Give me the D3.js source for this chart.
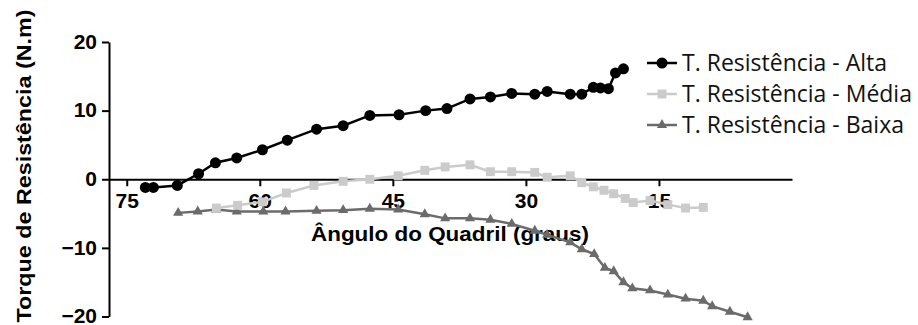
<!DOCTYPE html>
<html>
<head>
<meta charset="utf-8">
<script src="https://cdn.jsdelivr.net/npm/d3@7"></script>
<style>
  body { margin: 0; background: #fff; }
  svg { display: block; }
</style>
</head>
<body>
<div id="chart"></div>
<script>
// Torque de resistência x ângulo do quadril
const altaAngulo = [72.9, 72.0, 69.3, 66.9, 65.0, 62.6, 59.7, 56.9, 53.6, 50.6, 47.6, 44.3, 41.3, 38.9, 36.3, 34.0, 31.6, 29.0, 27.6, 25.0, 23.7, 22.4, 21.6, 20.7, 19.9, 19.0];
const altaTorque = [-1.2, -1.2, -0.9, 0.8, 2.4, 3.1, 4.3, 5.7, 7.3, 7.8, 9.3, 9.4, 10.0, 10.3, 11.7, 12.0, 12.5, 12.4, 12.8, 12.4, 12.4, 13.4, 13.3, 13.2, 15.5, 16.1];

const mediaAngulo = [64.9, 62.5, 59.7, 57.0, 53.9, 50.6, 47.6, 44.4, 41.4, 39.1, 36.3, 34.0, 31.6, 29.0, 27.6, 25.0, 23.7, 22.4, 21.2, 20.1, 18.8, 17.9, 16.0, 14.0, 12.0, 10.0];
const mediaTorque = [-4.2, -3.8, -3.3, -2.0, -0.9, -0.3, 0.0, 0.5, 1.3, 1.8, 2.1, 1.1, 1.1, 1.0, 0.3, 0.5, -0.5, -1.1, -1.6, -2.1, -2.8, -3.4, -3.1, -3.7, -4.2, -4.1];

const baixaAngulo = [69.2, 67.0, 64.9, 62.6, 59.6, 57.1, 53.6, 50.6, 47.6, 44.4, 41.4, 39.1, 36.3, 34.0, 31.6, 29.0, 27.6, 25.0, 23.7, 22.3, 21.1, 20.1, 19.0, 18.0, 16.0, 14.0, 12.0, 10.0, 9.0, 7.0, 5.0];
const baixaTorque = [-4.9, -4.7, -4.4, -4.7, -4.7, -4.7, -4.6, -4.5, -4.3, -4.4, -5.1, -5.7, -5.7, -5.9, -6.5, -7.5, -8.1, -9.2, -10.2, -10.9, -12.9, -13.4, -15.0, -15.9, -16.2, -16.8, -17.4, -17.7, -18.5, -19.3, -20.1];

const xTicks = [75, 60, 45, 30, 15];
const yTicks = [-20, -10, 0, 10, 20];
const seriesNames = ["T. Resistência - Alta", "T. Resistência - Média", "T. Resistência - Baixa"];

const width = 918, height = 325;
const axisFont = "'Liberation Sans', Arial, sans-serif";

const series = [
    {name: seriesNames[0], color: "#000000", shape: d3.symbolCircle, size: 95,
        values: altaAngulo.map((a, i) => ({x: a, y: altaTorque[i]}))},
    {name: seriesNames[1], color: "#cbcbcb", shape: d3.symbolSquare, size: 80,
        values: mediaAngulo.map((a, i) => ({x: a, y: mediaTorque[i]}))},
    {name: seriesNames[2], color: "#6b6b6b", shape: d3.symbolTriangle, size: 45,
        values: baixaAngulo.map((a, i) => ({x: a, y: baixaTorque[i]}))}
];

const svg = d3.select("#chart").append("svg")
    .attr("width", width)
    .attr("height", height);

// x reversed: larger angle on the left
const x = d3.scaleLinear().domain([77, 0]).range([109, 792]);
const y = d3.scaleLinear().domain([-20, 20]).range([316.5, 42]);

const styleTicks = g => g.selectAll("text")
    .attr("fill", "#000")
    .style("font-family", axisFont)
    .style("font-size", "21px")
    .style("font-weight", "bold");

// y axis
svg.append("g")
    .attr("transform", `translate(${x(77)},0)`)
    .call(d3.axisLeft(y).tickValues(yTicks).tickSize(7).tickSizeOuter(0).tickPadding(5))
    .call(g => g.selectAll("path, line").attr("stroke", "#000").attr("stroke-width", 2))
    .call(styleTicks)
    .call(g => g.selectAll("text").attr("dy", "0.3em"));

// x axis sits on y = 0
svg.append("g")
    .attr("transform", `translate(0,${y(0)})`)
    .call(d3.axisBottom(x).tickValues(xTicks).tickSize(7).tickSizeOuter(0).tickPadding(7))
    .call(g => g.selectAll("path, line").attr("stroke", "#000").attr("stroke-width", 2))
    .call(styleTicks);

// axis titles
svg.append("text")
    .attr("x", 450)
    .attr("y", 241)
    .attr("text-anchor", "middle")
    .attr("textLength", 278)
    .attr("lengthAdjust", "spacingAndGlyphs")
    .style("font-family", axisFont)
    .style("font-size", "21px")
    .style("font-weight", "bold")
    .text("Ângulo do Quadril (graus)");

svg.append("text")
    .attr("transform", "translate(31,166) rotate(-90)")
    .attr("text-anchor", "middle")
    .attr("textLength", 313)
    .attr("lengthAdjust", "spacingAndGlyphs")
    .style("font-family", axisFont)
    .style("font-size", "21px")
    .style("font-weight", "bold")
    .text("Torque de Resistência (N.m)");

// lines + markers
const line = d3.line().x(d => x(d.x)).y(d => y(d.y));

const groups = svg.selectAll("g.serie")
    .data(series.slice().reverse())
    .join("g")
    .attr("class", "serie");

groups.append("path")
    .attr("d", d => line(d.values))
    .attr("fill", "none")
    .attr("stroke", d => d.color)
    .attr("stroke-width", 2.5);

groups.each(function (s) {
    d3.select(this).selectAll("path.pt")
        .data(s.values)
        .join("path")
        .attr("class", "pt")
        .attr("transform", d => `translate(${x(d.x)},${y(d.y)})`)
        .attr("d", d3.symbol().type(s.shape).size(s.size))
        .attr("fill", s.color);
});

// legend
const legend = svg.append("g")
    .selectAll("g")
    .data(series)
    .join("g")
    .attr("transform", (d, i) => `translate(647,${63 + i * 31})`);

legend.append("line")
    .attr("x1", 0).attr("x2", 30)
    .attr("stroke", d => d.color)
    .attr("stroke-width", 2.5);

legend.append("path")
    .attr("transform", "translate(15,0)")
    .attr("d", d => d3.symbol().type(d.shape).size(d.size)())
    .attr("fill", d => d.color);

legend.append("text")
    .attr("x", 35)
    .attr("dy", "0.35em")
    .style("font-family", "'Open Sans', sans-serif")
    .style("font-size", "23px")
    .attr("fill", "#111")
    .text(d => d.name);
</script>
</body>
</html>
